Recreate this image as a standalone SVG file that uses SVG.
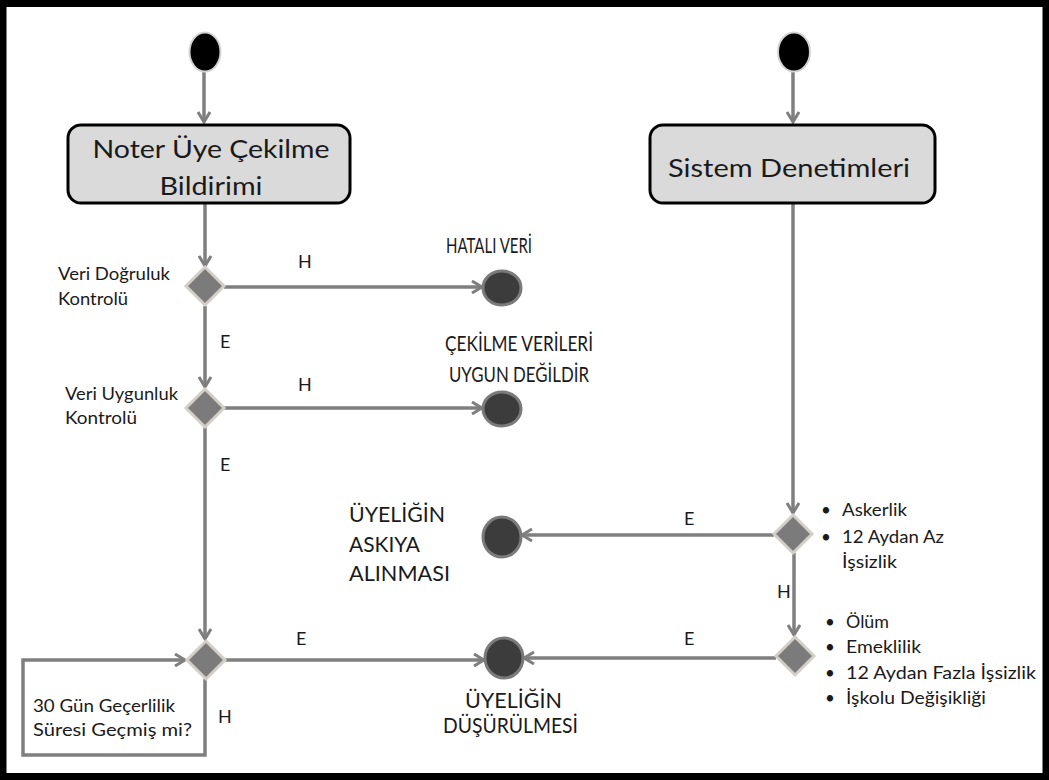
<svg xmlns="http://www.w3.org/2000/svg" width="1049" height="780" viewBox="0 0 1049 780">
<style>
text{font-family:Lato,"Open Sans","Liberation Sans",sans-serif;fill:#1a1a1a}
.title{font-size:25px;text-anchor:middle}
.end{font-size:22px}
.lbl{font-size:17px}
.yn{font-size:18px}
.conn{fill:none;stroke:#7f7f7f;stroke-width:3.5}
.start{fill:#000;stroke:#d4d4d4;stroke-width:2}
.fin{fill:#3c3c3c;stroke:#7a7a7a;stroke-width:3}
.dec{fill:#7b7b7b;stroke:#d2cfca;stroke-width:3}
.box{fill:#dadada;stroke:#000;stroke-width:3}
</style>
<defs>
<marker id="arr" viewBox="0 0 14 14" markerWidth="14" markerHeight="14" markerUnits="userSpaceOnUse" refX="12" refY="7" orient="auto">
<path d="M2,1 L12,7 L2,13" fill="none" stroke="#7f7f7f" stroke-width="3"/>
</marker>
</defs>
<rect x="3" y="3.5" width="1043" height="773" fill="#fff" stroke="#000" stroke-width="7"/>

<g id="connectors">
<path class="conn" d="M204,72 V122" marker-end="url(#arr)"/>
<path class="conn" d="M205,204 V266" marker-end="url(#arr)"/>
<path class="conn" d="M224,287 H482" marker-end="url(#arr)"/>
<path class="conn" d="M205,306 V387" marker-end="url(#arr)"/>
<path class="conn" d="M224,408 H482" marker-end="url(#arr)"/>
<path class="conn" d="M205,427 V639" marker-end="url(#arr)"/>
<path class="conn" d="M225,660 H484" marker-end="url(#arr)"/>
<path class="conn" d="M205,679 V755 H23 V660 H185" marker-end="url(#arr)"/>
<path class="conn" d="M793,72 V122" marker-end="url(#arr)"/>
<path class="conn" d="M793,204 V513" marker-end="url(#arr)"/>
<path class="conn" d="M774,535 H522" marker-end="url(#arr)"/>
<path class="conn" d="M794,553 V635" marker-end="url(#arr)"/>
<path class="conn" d="M776,658 H524" marker-end="url(#arr)"/>
</g>

<g id="edge-labels">
<text class="yn" x="298" y="268">H</text>
<text class="yn" x="220" y="348">E</text>
<text class="yn" x="298" y="391">H</text>
<text class="yn" x="220" y="471">E</text>
<text class="yn" x="296" y="645">E</text>
<text class="yn" x="218" y="723">H</text>
<text class="yn" x="684" y="525">E</text>
<text class="yn" x="777" y="598">H</text>
<text class="yn" x="684" y="645">E</text>
</g>

<g id="start1"><ellipse class="start" cx="205" cy="52" rx="15.5" ry="19.5"/></g>
<g id="start2"><ellipse class="start" cx="794" cy="52" rx="16" ry="19.5"/></g>

<g id="noter">
<rect class="box" x="68" y="125" width="282" height="78" rx="13"/>
<text class="title" x="211" y="158" textLength="237" lengthAdjust="spacingAndGlyphs">Noter Üye Çekilme</text>
<text class="title" x="211" y="195" textLength="103" lengthAdjust="spacingAndGlyphs">Bildirimi</text>
</g>

<g id="sistem">
<rect class="box" x="650" y="125" width="285" height="78" rx="13"/>
<text class="title" x="789" y="177" textLength="242" lengthAdjust="spacingAndGlyphs">Sistem Denetimleri</text>
</g>

<g id="d1">
<path class="dec" d="M205,267 L224,286 L205,305 L186,286 Z"/>
<text class="lbl" x="58" y="280" textLength="112" lengthAdjust="spacingAndGlyphs">Veri Doğruluk</text>
<text class="lbl" x="58" y="305" textLength="70" lengthAdjust="spacingAndGlyphs">Kontrolü</text>
</g>

<g id="d2">
<path class="dec" d="M205,389 L224,408 L205,427 L186,408 Z"/>
<text class="lbl" x="65" y="400" textLength="113" lengthAdjust="spacingAndGlyphs">Veri Uygunluk</text>
<text class="lbl" x="65" y="424" textLength="72" lengthAdjust="spacingAndGlyphs">Kontrolü</text>
</g>

<g id="d3">
<path class="dec" d="M206,641 L225,660 L206,679 L187,660 Z"/>
<text class="lbl" x="33" y="712" textLength="142" lengthAdjust="spacingAndGlyphs">30 Gün Geçerlilik</text>
<text class="lbl" x="33" y="736" textLength="159" lengthAdjust="spacingAndGlyphs">Süresi Geçmiş mi?</text>
</g>

<g id="d4">
<path class="dec" d="M793,515 L812,534 L793,553 L774,534 Z"/>
<text class="lbl" x="821" y="516">•</text>
<text class="lbl" x="842" y="516" textLength="65" lengthAdjust="spacingAndGlyphs">Askerlik</text>
<text class="lbl" x="821" y="543">•</text>
<text class="lbl" x="842" y="543" textLength="102" lengthAdjust="spacingAndGlyphs">12 Aydan Az</text>
<text class="lbl" x="842" y="568" textLength="55" lengthAdjust="spacingAndGlyphs">İşsizlik</text>
</g>

<g id="d5">
<path class="dec" d="M795,637 L814,656 L795,675 L776,656 Z"/>
<text class="lbl" x="825" y="628">•</text>
<text class="lbl" x="846" y="628" textLength="43" lengthAdjust="spacingAndGlyphs">Ölüm</text>
<text class="lbl" x="825" y="653">•</text>
<text class="lbl" x="846" y="653" textLength="75" lengthAdjust="spacingAndGlyphs">Emeklilik</text>
<text class="lbl" x="825" y="679">•</text>
<text class="lbl" x="846" y="679" textLength="190" lengthAdjust="spacingAndGlyphs">12 Aydan Fazla  İşsizlik</text>
<text class="lbl" x="825" y="704">•</text>
<text class="lbl" x="846" y="704" textLength="140" lengthAdjust="spacingAndGlyphs">İşkolu Değişikliği</text>
</g>

<g id="hatali">
<ellipse class="fin" cx="502" cy="288" rx="19" ry="17"/>
<text class="end" x="446" y="253" textLength="86" lengthAdjust="spacingAndGlyphs">HATALI VERİ</text>
</g>

<g id="uygun-degil">
<ellipse class="fin" cx="502" cy="409" rx="19" ry="17"/>
<text class="end" x="445" y="351" textLength="148" lengthAdjust="spacingAndGlyphs">ÇEKİLME VERİLERİ</text>
<text class="end" x="449" y="382" textLength="140" lengthAdjust="spacingAndGlyphs">UYGUN DEĞİLDİR</text>
</g>

<g id="askiya">
<ellipse class="fin" cx="502" cy="537" rx="19" ry="20"/>
<text class="end" x="349" y="522" textLength="96" lengthAdjust="spacingAndGlyphs">ÜYELİĞİN</text>
<text class="end" x="349" y="552" textLength="71" lengthAdjust="spacingAndGlyphs">ASKIYA</text>
<text class="end" x="349" y="581" textLength="101" lengthAdjust="spacingAndGlyphs">ALINMASI</text>
</g>

<g id="dusurulme">
<ellipse class="fin" cx="504" cy="658" rx="19" ry="20"/>
<text class="end" x="465" y="708" textLength="97" lengthAdjust="spacingAndGlyphs">ÜYELİĞİN</text>
<text class="end" x="443" y="733" textLength="135" lengthAdjust="spacingAndGlyphs">DÜŞÜRÜLMESİ</text>
</g>
</svg>
